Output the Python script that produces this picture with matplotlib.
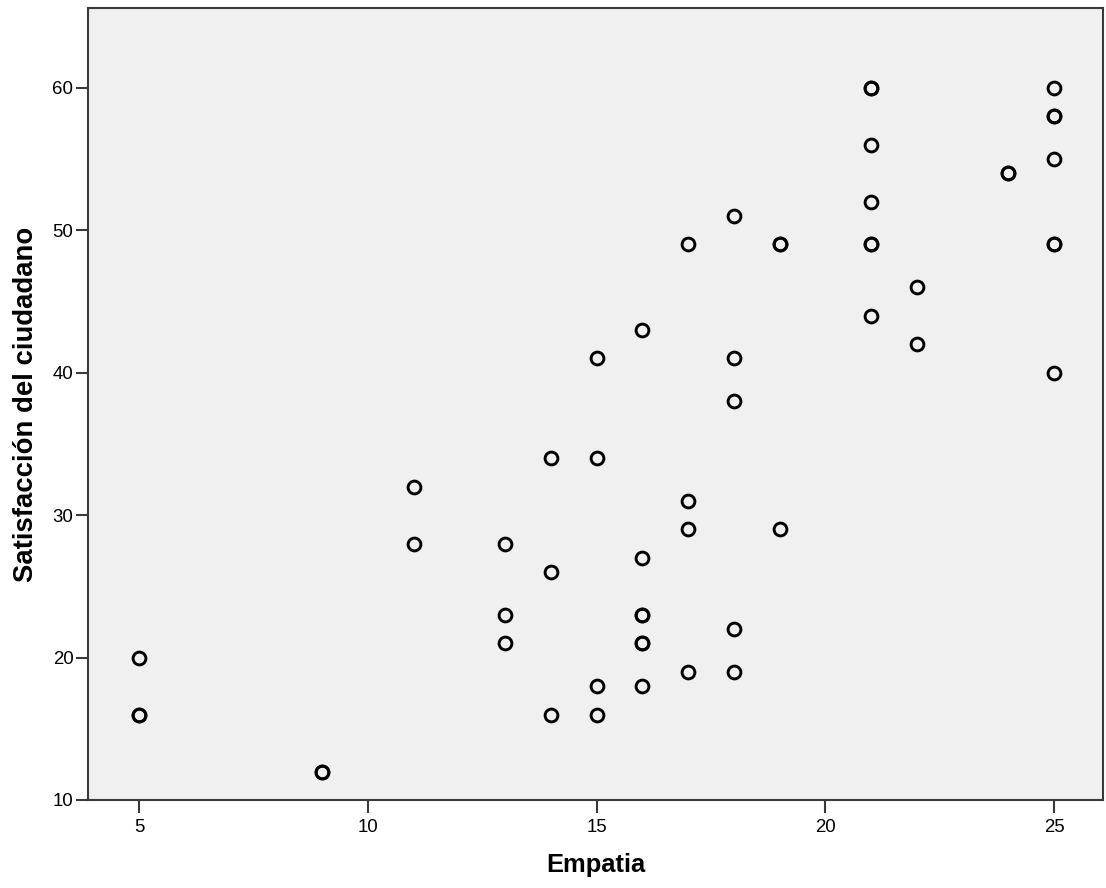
import matplotlib
matplotlib.use("Agg")
import matplotlib.pyplot as plt

# Empatia (x) vs Satisfaccion del ciudadano (y); repeated pairs are real duplicates
empatia = [5, 5, 5,
           9, 9,
           11, 11,
           13, 13, 13,
           14, 14, 14,
           15, 15, 15, 15,
           16, 16, 16, 16, 16, 16, 16,
           17, 17, 17, 17,
           18, 18, 18, 18, 18,
           19, 19, 19,
           21, 21, 21, 21, 21, 21, 21,
           22, 22,
           24, 24,
           25, 25, 25, 25, 25, 25, 25]
satisfaccion = [20, 16, 16,
                12, 12,
                32, 28,
                28, 23, 21,
                34, 26, 16,
                41, 34, 18, 16,
                43, 27, 23, 23, 21, 21, 18,
                49, 31, 29, 19,
                51, 41, 38, 22, 19,
                49, 49, 29,
                60, 60, 56, 52, 49, 49, 44,
                46, 42,
                54, 54,
                60, 58, 58, 55, 49, 49, 40]

x_ticks = [5, 10, 15, 20, 25]
y_ticks = [10, 20, 30, 40, 50, 60]

plt.rcParams['font.family'] = ['Liberation Sans', 'DejaVu Sans']

fig = plt.figure(figsize=(11.06, 8.88), dpi=100)
ax = fig.add_axes([0.0796, 0.0991, 0.9177, 0.892])
ax.set_facecolor('#f0f0f0')

ax.plot(empatia, satisfaccion, linestyle='none', marker='o', markersize=9.2,
        markerfacecolor='none', markeredgecolor='black', markeredgewidth=2.1)

ax.set_xlim(3.88, 26.07)
ax.set_ylim(10, 65.6)
ax.set_xticks(x_ticks)
ax.set_yticks(y_ticks)

for s in ax.spines.values():
    s.set_color('#3a3a3a')
    s.set_linewidth(1.5)

ax.tick_params(axis='x', length=9, width=1.5, color='#3a3a3a', pad=5, labelsize=13.4)
ax.tick_params(axis='y', length=9, width=1.5, color='#3a3a3a', pad=1.5, labelsize=13.4)

ax.set_xlabel('Empatia', fontsize=18.4, fontweight='bold', labelpad=12)
ax.set_ylabel('Satisfacción del ciudadano', fontsize=19.8, fontweight='bold', labelpad=10)

fig.savefig('out.png', dpi=100)
